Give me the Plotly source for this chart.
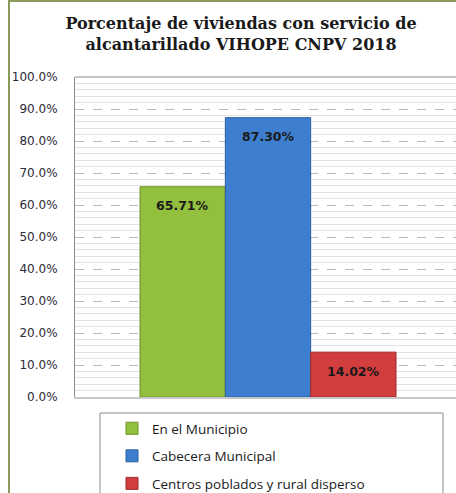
import plotly.graph_objects as go

series_names = ["En el Municipio", "Cabecera Municipal", "Centros poblados y rural disperso"]
values = [65.71, 87.30, 14.02]
colors = ["#92bf3e", "#3d7ecf", "#d23d3d"]
edge_colors = ["#6f9128", "#2c5f9e", "#9e2a2a"]
title_lines = ["Porcentaje de viviendas con servicio de", "alcantarillado VIHOPE CNPV 2018"]

W, H = 456, 493
L, T, B = 75, 77, 96
plot_w = W - L
bargap = 0.2
group_w = 1 - bargap
px_per_unit = 256 / group_w
center_px = 268 - L
x0 = -center_px / px_per_unit
x1 = x0 + plot_w / px_per_unit

fig = go.Figure()
n = len(values)
bw = group_w / n
for i, (name, v, c, ec) in enumerate(zip(series_names, values, colors, edge_colors)):
    fig.add_trace(go.Bar(
        x=[0], y=[v], name=name, legendgroup=name,
        marker=dict(color=c, line=dict(color=ec, width=1)),
        hoverinfo="skip",
    ))
    fig.add_annotation(
        x=-group_w / 2 + bw * (i + 0.5), y=v, xref="x", yref="y",
        text=f"<b>{v:.2f}%</b>", showarrow=False, yshift=-19, yanchor="middle",
        font=dict(family="DejaVu Sans", size=12.5, color="#1a1a1a"),
    )

# legend box
fig.add_shape(type="rect", xref="paper", yref="paper",
              x0=(100 - L) / plot_w, x1=(443 - L) / plot_w,
              y0=-(H + 20 - (H - B)) / 320, y1=-(413 - (H - B)) / 320,
              line=dict(color="#8c8c8c", width=1), fillcolor="white", layer="below")
# outer chart border (left / top)
fig.add_shape(type="line", xref="paper", yref="paper",
              x0=(9 - L) / plot_w, x1=(9 - L) / plot_w, y0=-B / 320 - 0.1, y1=(H - B) / 320 + 0.1,
              line=dict(color="#8a9a5b", width=2))
fig.add_shape(type="line", xref="paper", yref="paper",
              x0=(9 - L) / plot_w, x1=1.1, y0=(H - B - 1) / 320, y1=(H - B - 1) / 320,
              line=dict(color="#8a9a5b", width=2))

fig.update_layout(
    width=W, height=H,
    margin=dict(l=L, r=0, t=T, b=B, autoexpand=False),
    paper_bgcolor="white", plot_bgcolor="white",
    barmode="group", bargap=bargap, bargroupgap=0,
    title=dict(text="<b>" + "<br>".join(title_lines) + "</b>",
               x=241 / W, xanchor="center", y=1 - 29 / H, yanchor="top",
               font=dict(family="DejaVu Serif", size=16, color="#1a1a1a")),
    showlegend=True,
    legend=dict(x=(112 - L) / plot_w, y=-(413 - (H - B)) / 320, xanchor="left", yanchor="top",
                bgcolor="rgba(0,0,0,0)", borderwidth=0,
                traceorder="grouped", tracegroupgap=7,
                font=dict(family="Open Sans", size=13.5, color="#1a1a1a")),
    xaxis=dict(range=[x0, x1], showticklabels=False, showgrid=False, zeroline=False,
               showline=True, linecolor="#c8c8c8", linewidth=2, fixedrange=True),
    yaxis=dict(range=[0, 100], dtick=10, tickformat=".1f", ticksuffix="%",
               showgrid=True, gridcolor="#b8b8b8", griddash="dash", gridwidth=1,
               minor=dict(dtick=2, showgrid=True, gridcolor="#e2e2e2", gridwidth=1, griddash="solid"),
               zeroline=False, showline=True, linecolor="#8c8c8c", linewidth=1, mirror=False,
               ticklabelstandoff=14, fixedrange=True,
               tickfont=dict(family="DejaVu Sans", size=12, color="#2a2a3a")),
)
fig.add_shape(type="line", xref="paper", yref="paper", x0=0, x1=1, y0=1, y1=1,
              line=dict(color="#8c8c8c", width=1))

fig.write_html("out.html", config={"displayModeBar": False},
               post_script="document.body.style.margin='0';")
